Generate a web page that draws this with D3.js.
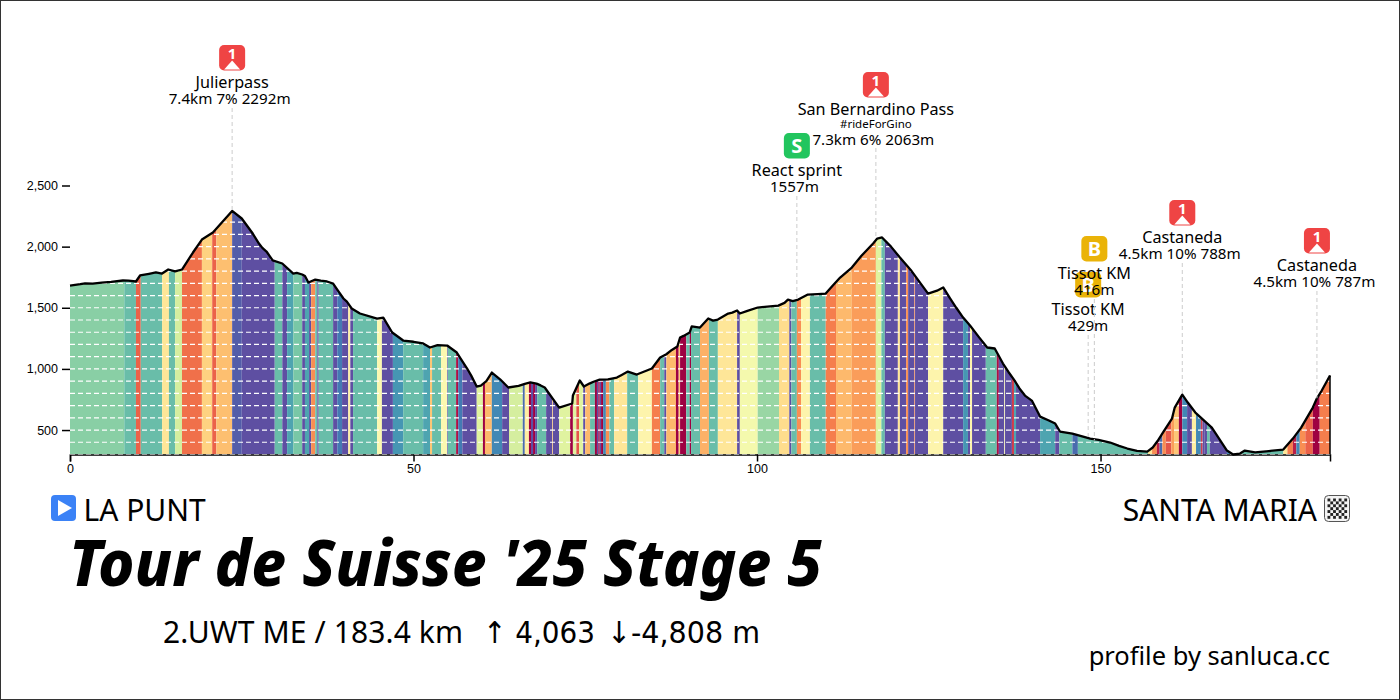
<!DOCTYPE html>
<html>
<head>
<meta charset="utf-8">
<style>
  body { margin: 0; background: #fff; }
  svg { display: block; }
  text { font-family: "Noto Sans", sans-serif; fill: #000; }
  .tick text { font-family: "Liberation Sans", Arial, sans-serif; font-size: 12.5px; }
  .tick line, .domain { stroke: #000; stroke-width: 1.5; }
</style>
</head>
<body>
<svg id="chart" width="1400" height="700"></svg>
<script src="https://cdnjs.cloudflare.com/ajax/libs/d3/7.8.5/d3.min.js"></script>
<script>
// elevation profile, [km, metres]
var profile = [
  [0,1682],[1.5,1693],[2.2,1700],[3.3,1698],[4.6,1705],[6.0,1712],[7.7,1723],[8.5,1722],[9.6,1715],[10.2,1764],
  [11.5,1778],[12.5,1790],[13.4,1780],[14.3,1813],[15.3,1797],[16.3,1813],
  [17.9,1952],[19.2,2058],[20.8,2116],[23.6,2292],[25.0,2230],[26.6,2107],[27.5,2025],[28.0,1990],[28.6,1960],
  [29.5,1887],[30.9,1862],[32.5,1780],[33.0,1785],[33.8,1772],[34.2,1760],[34.7,1707],[35.7,1731],[36.5,1722],
  [37.4,1715],[38.3,1698],[39.0,1640],[39.8,1576],[40.3,1550],[41.0,1494],[42.2,1453],
  [44.7,1412],[45.6,1420],[46.9,1298],[48.5,1232],[50.0,1222],[51.4,1208],[52.4,1175],[53.5,1195],[54.9,1191],[56.3,1134],
  [57.8,1003],[58.4,945],[59.2,856],[59.8,864],[60.6,900],[61.4,970],[62.6,915],[63.8,848],[65.3,862],[66.2,878],
  [67.0,889],[67.9,880],[68.5,865],[69.1,848],[71.2,684],[73.1,717],
  [73.2,782],[74.2,905],[74.8,856],[75.6,880],[76.2,895],[77.1,913],[78.3,915],[79.6,929],[80.3,950],[81.2,978],[82.5,954],[84.7,1003],[85.9,1093],
  [86.8,1120],[87.6,1155],[88.4,1183],[88.8,1257],[89.3,1270],[90.2,1298],[90.5,1347],[91.7,1338],[92.9,1412],[93.6,1395],[94.3,1404],[95.8,1453],
  [96.4,1460],[97.1,1478],[97.5,1453],[98.6,1475],[100.1,1502],[101.5,1510],[103.1,1518],[104.0,1540],[104.5,1567],[105.2,1555],[106.0,1567],[107.4,1608],[108.8,1612],[110.0,1616],
  [111.0,1680],[112.1,1747],[113.8,1829],[115.2,1925],[116.9,2026],[117.5,2066],[118.2,2075],[119.5,2000],[120.8,1911],[122.5,1800],[124.9,1616],[126.2,1640],[127.1,1666],
  [128.1,1576],[129.0,1500],[130.0,1420],[131.0,1355],[132.3,1260],[133.5,1175],[134.6,1167],[135.8,1044],[136.6,975],[137.5,904],[138.2,840],[139.0,782],
  [140.0,741],[141.2,610],[142.4,580],[143.4,553],[144.1,488],[145.9,471],[147.2,450],[148.5,430],[149.7,420],[151.4,398],[152.7,370],[153.9,349],
  [155.3,330],[156.8,324],[157.6,357],[158.3,410],[159.1,480],[160.4,594],[160.8,684],[161.9,790],[162.7,725],[163.8,643],
  [166.2,520],[168.4,332],[169.3,300],[170.3,308],[171.0,332],[172.5,318],[174.5,328],[176.6,340],[178.0,430],[179.2,520],[180.9,684],
  [181.5,760],[182.2,823],[183.4,946]
];

// gradient bands, [km where the band ends, grade]
var bands = [
  [7.9,-5],[9.6,-6],[10.3,6.5],[13.4,-6],[14.4,1.5],[15.3,-6],[16.3,-2.5],[19.2,6],[20.7,2.5],[21.3,6.5],
  [23.6,3.3],[25.0,-9.5],[29.8,-10],[30.9,-6],[31.6,-10],[32.5,-7],[33.8,-5.5],[34.2,-10],[34.8,-7],[35.1,-10],
  [35.7,5],[36.0,-6],[36.2,-10],[38.3,-6],[38.9,-10],[39.6,-8.5],[40.5,-10],[40.8,1],[41.2,-10],[44.7,-6],
  [45.4,0],[47.0,-10],[48.5,-7.5],[51.4,-6],[52.4,-7],[52.7,3],[54.0,-6],[54.9,0],[55.0,-10],[56.2,-6],
  [56.5,9.5],[57.1,-8.5],[59.2,-10],[60.1,-2],[60.4,10],[61.4,3.5],[62.9,-8],[63.9,-10],[65.9,-2.5],[66.2,-9],
  [66.8,1],[67.1,10],[67.4,-10],[67.7,10],[68.0,-10],[69.3,-6],[70.2,-10],[70.3,3],[71.2,-10],[72.8,-2],
  [73.2,10],[73.7,-2],[74.1,7],[74.7,-2],[75.0,-10],[75.7,3.5],[76.4,-6],[76.7,10],[76.9,-10],[77.1,10],[77.3,-10],[77.6,10],[78.0,-8],
  [78.5,5],[79.2,-6],[81.1,1.5],[82.7,-6],[84.7,0.5],[85.9,5.5],[86.5,-6],[86.8,-10],[88.2,3.5],[88.6,10],
  [88.8,3],[89.7,10],[90.2,-6],[90.4,10],[91.7,-6],[93.0,3.8],[94.3,-6],[97.1,1.5],[97.5,-10],[100.1,-0.8],
  [103.2,-4.5],[104.7,2],[105.0,-10],[105.8,-6],[106.4,5],[107.7,0.5],[110.0,-6],[111.5,5.5],[113.8,3.5],[117.3,4.5],
  [118.1,-2],[118.6,-6],[120.5,-10],[120.8,1.5],[121.7,-10],[122.0,5],[122.9,-10],[123.0,5],[124.9,-10],[127.1,0.5],
  [130.0,-10],[130.7,-7.5],[131.0,-10],[131.3,0.5],[133.3,-10],[134.9,-6],[135.2,9.5],[136.0,-10],[136.1,0],[137.1,-10],
  [137.4,8],[137.7,-7],[141.2,-10],[143.4,-7],[144.0,-10],[145.9,-6],[146.7,-9],[156.9,-6],[157.5,1.5],[158.2,5],
  [158.6,9],[159.0,-9],[159.5,5],[160.3,7],[160.7,4.5],[161.4,3],[161.9,10],[162.6,-8],[163.3,-10],[163.9,1],[164.6,-8],
  [164.85,8],[165.1,-10],[165.5,-10],[165.9,-6],[168.4,-10],[170.3,-8],[176.6,-6],[177.2,1.5],[178.0,5.5],[178.5,9],[179.0,-8],[179.8,5],
  [180.9,6.5],[181.9,10],[183.4,5.5]
];

var xTicks = [0, 50, 100, 150];
var yTicks = [500, 1000, 1500, 2000, 2500];

// climbs and sprints on the road
var stops = [
  {km: 23.6, ele: 2292, badge: "1", color: "#ef4444", lines: ["Julierpass", "7.4km 7% 2292m"]},
  {km: 117.3, ele: 2066, badge: "1", color: "#ef4444", lines: ["San Bernardino Pass", "#rideForGino", "7.3km 6% 2063m"]},
  {km: 105.8, ele: 1567, badge: "S", color: "#22c55e", lines: ["React sprint", "1557m"]},
  {km: 148.2, ele: 430, badge: "B", color: "#eab308", lines: ["Tissot KM", "429m"]},
  {km: 149.1, ele: 416, badge: "B", color: "#eab308", lines: ["Tissot KM", "416m"]},
  {km: 161.9, ele: 790, badge: "1", color: "#ef4444", lines: ["Castaneda", "4.5km 10% 788m"]},
  {km: 181.5, ele: 760, badge: "1", color: "#ef4444", lines: ["Castaneda", "4.5km 10% 787m"]}
];
// top of the badge for each stop, same order
var badgeTop = [45, 72, 133, 272, 236, 200, 228];

var svg = d3.select("#chart");
var x = d3.scaleLinear().domain([0, 183.4]).range([70, 1330]);
var y = d3.scaleLinear().domain([300, 2500]).range([454.5, 185.5]);
var gradeColor = d3.scaleSequential(d3.interpolateSpectral).domain([10, -10]);

svg.append("rect").attr("x", 0.5).attr("y", 0.5).attr("width", 1399).attr("height", 699)
   .attr("fill", "#fff").attr("stroke", "#333");

var area = d3.area().x(d => x(d[0])).y0(y(300)).y1(d => y(d[1]));
var line = d3.line().x(d => x(d[0])).y(d => y(d[1]));

svg.append("clipPath").attr("id", "under").append("path").attr("d", area(profile));

var inside = svg.append("g").attr("clip-path", "url(#under)");
inside.selectAll("rect").data(bands).join("rect")
  .attr("x", (d, i) => x(i ? bands[i - 1][0] : 0))
  .attr("width", (d, i) => x(d[0]) - x(i ? bands[i - 1][0] : 0))
  .attr("y", y(2500)).attr("height", y(300) - y(2500))
  .attr("fill", d => gradeColor(d[1]));

// axes
svg.append("g").attr("transform", "translate(0," + y(300) + ")")
  .call(d3.axisBottom(x).tickValues(xTicks).tickSize(7).tickPadding(3).tickFormat(d3.format("d")));
var yAxis = svg.append("g").attr("transform", "translate(70,0)")
  .call(d3.axisLeft(y).tickValues(yTicks).tickSize(8).tickPadding(4).tickFormat(d3.format(",")));
yAxis.select(".domain").remove();

// white dashes every 100 m, also over the base line
svg.append("g").selectAll("line").data(d3.range(300, 2400, 100)).join("line")
  .attr("clip-path", "url(#under)")
  .attr("x1", x(0)).attr("x2", x(183.4))
  .attr("y1", d => y(d)).attr("y2", d => y(d))
  .attr("stroke", "#fff").attr("stroke-width", 1.2).attr("stroke-dasharray", "5 3");

svg.append("path").attr("d", line(profile)).attr("fill", "none")
  .attr("stroke", "#000").attr("stroke-width", 2.3).attr("stroke-linejoin", "round");
svg.append("line").attr("x1", x(183.4)).attr("x2", x(183.4))
  .attr("y1", y(946)).attr("y2", y(300)).attr("stroke", "#000").attr("stroke-width", 1.5);

// stop markers
stops.forEach(function(s, i) {
  var cx = x(s.km), top = badgeTop[i];
  var g = svg.append("g");
  var n = s.lines.length;
  var textBottom = top + 26 + 17 + (n == 3 ? 12 + 17 : 16);
  g.append("line").attr("x1", cx).attr("x2", cx).attr("y1", textBottom + 4).attr("y2", y(s.ele))
    .attr("stroke", "#ccc").attr("stroke-width", 1).attr("stroke-dasharray", "4 3");
  g.append("rect").attr("x", cx - 13).attr("y", top).attr("width", 26).attr("height", 25.5).attr("rx", 5)
    .attr("fill", s.color);
  if (s.badge == "1") {
    g.append("text").attr("x", cx).attr("y", top + 14).attr("text-anchor", "middle")
      .attr("font-size", 15).attr("font-weight", 700).style("fill", "#fff").text("1");
    g.append("path").attr("d", "M" + (cx - 8) + "," + (top + 24.5) + "L" + cx + "," + (top + 15.5)
      + "L" + (cx + 8) + "," + (top + 24.5) + "Z").attr("fill", "#fff");
  } else {
    g.append("text").attr("x", cx).attr("y", top + 20).attr("text-anchor", "middle")
      .attr("font-size", 20).attr("font-weight", 700).style("fill", "#fff").text(s.badge);
  }
  var ty = top + 42.7;
  s.lines.forEach(function(t, j) {
    var small = t[0] == "#", isLast = j == n - 1;
    if (j > 0) ty += small ? 13 : (s.lines[j - 1][0] == "#" ? 17 : 16.5);
    g.append("text").attr("x", cx).attr("y", ty).attr("text-anchor", "middle")
      .attr("dx", isLast && s.badge != "B" ? -2.5 : 0)
      .attr("font-size", small ? 11.5 : (isLast ? 15.2 : 16.2)).text(t);
  });
});

// start and finish
svg.append("rect").attr("x", 51).attr("y", 495).attr("width", 25).attr("height", 26).attr("rx", 4).attr("fill", "#3b82f6");
svg.append("path").attr("d", "M58,500L58,516L72,508Z").attr("fill", "#fff");
svg.append("text").attr("x", 83.5).attr("y", 521).attr("font-size", 30).text("LA PUNT");
svg.append("text").attr("x", 1317).attr("y", 521).attr("text-anchor", "end").attr("font-size", 30).text("SANTA MARIA");

svg.append("rect").attr("x", 1324.5).attr("y", 495.5).attr("width", 25).attr("height", 26).attr("rx", 4)
  .attr("fill", "#f4f4f4").attr("stroke", "#555");
d3.range(0, 7).forEach(function(r) {
  d3.range(0, 7).forEach(function(c) {
    if ((r + c) % 2 == 0) {
      svg.append("rect").attr("x", 1327.5 + c * 2.8).attr("y", 498.5 + r * 2.9)
        .attr("width", 2.8).attr("height", 2.9).attr("fill", "#222");
    }
  });
});

// titles
svg.append("text").attr("x", 69).attr("y", 586).attr("font-size", 64)
  .attr("font-weight", 800).attr("font-style", "italic")
  .attr("textLength", 753).attr("lengthAdjust", "spacingAndGlyphs").text("Tour de Suisse '25 Stage 5");
svg.append("text").attr("x", 163).attr("y", 643).attr("font-size", 30)
  .attr("textLength", 300).attr("lengthAdjust", "spacing").text("2.UWT ME / 183.4 km");
svg.append("text").attr("x", 483).attr("y", 643).attr("font-size", 30)
  .attr("textLength", 112).text("↑ 4,063").style("font-family", "'DejaVu Sans'").attr("lengthAdjust", "spacingAndGlyphs");
svg.append("text").attr("x", 607).attr("y", 643).attr("font-size", 30)
  .attr("textLength", 153).text("↓-4,808 m").style("font-family", "'DejaVu Sans'").attr("lengthAdjust", "spacingAndGlyphs");
svg.append("text").attr("x", 1330).attr("y", 665).attr("text-anchor", "end").attr("font-size", 25.5)
  .text("profile by sanluca.cc");
</script>
</body>
</html>
